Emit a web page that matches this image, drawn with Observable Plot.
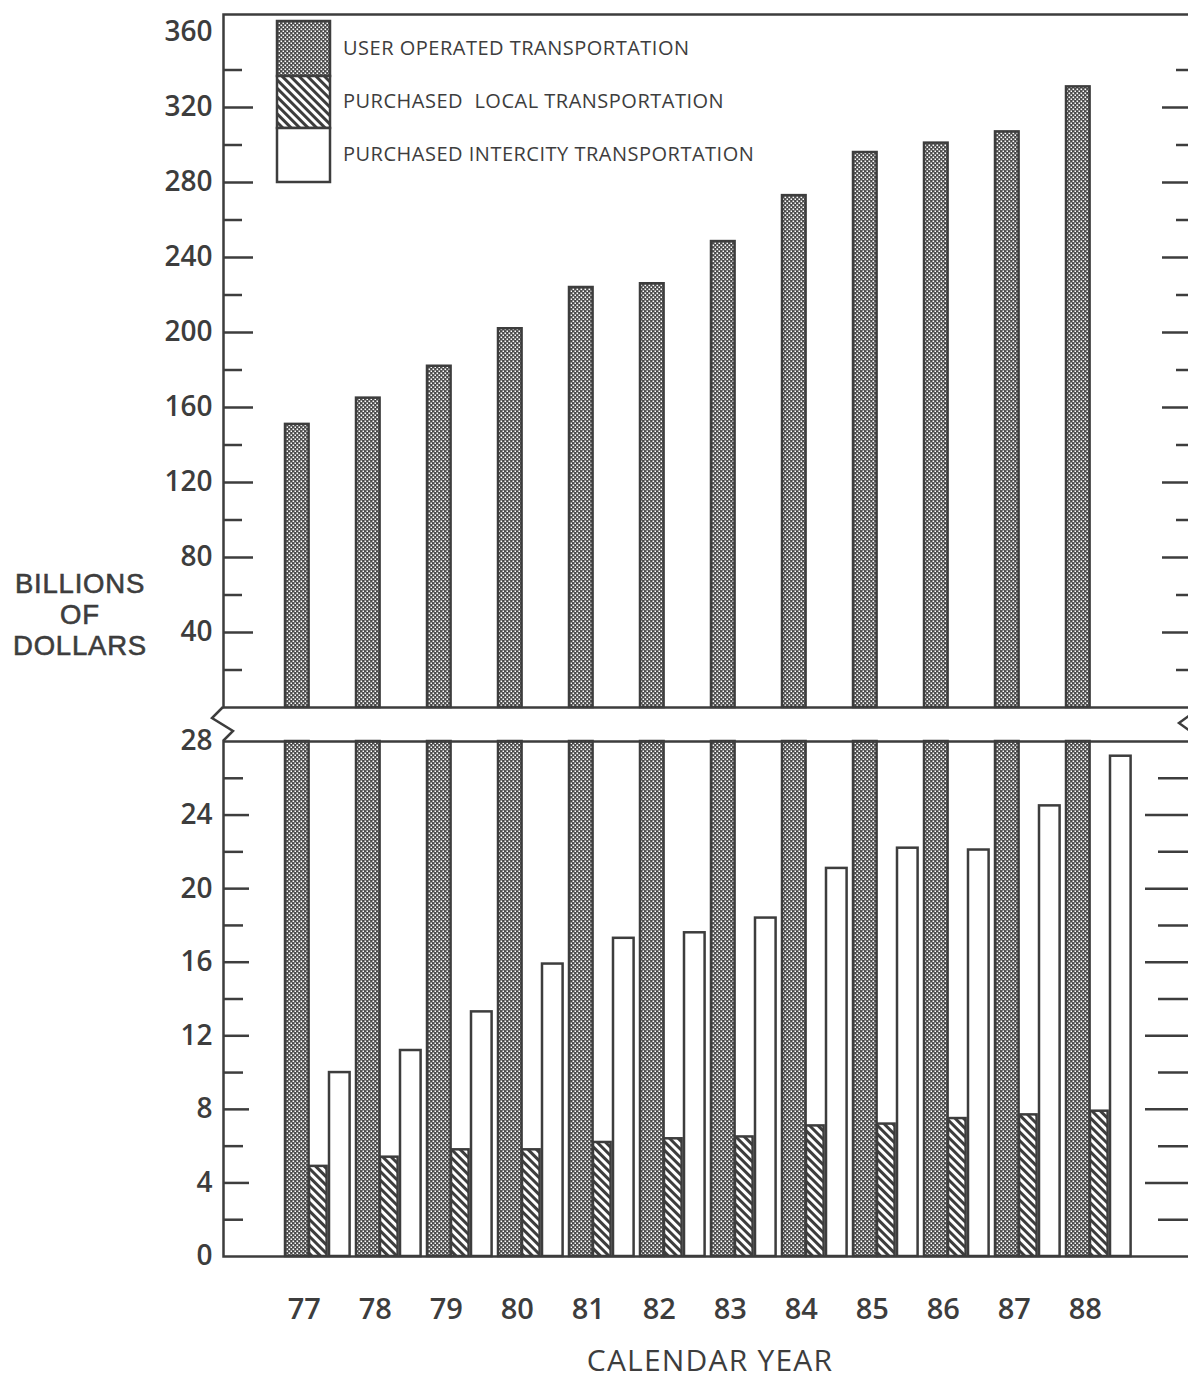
<!DOCTYPE html>
<html><head><meta charset="utf-8">
<script src="https://cdn.jsdelivr.net/npm/d3@7"></script>
<script src="https://cdn.jsdelivr.net/npm/@observablehq/plot@0.6"></script>
<style>
body{margin:0;background:#fff;}
#wrap{position:relative;width:1188px;height:1381px;overflow:hidden;font-family:"Open Sans",sans-serif;color:#3d3d3d;background:#fff;}
.abs{position:absolute;}
</style></head><body>
<svg width="0" height="0" style="position:absolute">
<defs>
<pattern id="dots" width="4" height="4" patternUnits="userSpaceOnUse">
 <rect width="4" height="4" fill="#4a4a4a"/>
 <rect x="0.5" y="0.5" width="1.6" height="1.6" fill="#fff"/>
 <rect x="2.5" y="2.5" width="1.6" height="1.6" fill="#fff"/>
</pattern>
<pattern id="hatch" width="6" height="6" patternUnits="userSpaceOnUse" patternTransform="rotate(-45)">
 <rect width="6" height="6" fill="#fff"/>
 <rect width="3" height="6" fill="#3d3d3d"/>
</pattern>
</defs></svg>
<div id="wrap"></div>
<script>
// ---- data ----
const years = ["77","78","79","80","81","82","83","84","85","86","87","88"];
const userOperated = [151, 165, 182, 202, 224, 226, 248.5, 273, 296, 301, 307, 331];
const purchasedLocal = [4.9, 5.4, 5.8, 5.8, 6.2, 6.4, 6.5, 7.1, 7.2, 7.5, 7.7, 7.9];
const purchasedIntercity = [10.0, 11.2, 13.3, 15.9, 17.3, 17.6, 18.4, 21.1, 22.2, 22.1, 24.5, 27.2];
const seriesLabels = ["USER OPERATED TRANSPORTATION", "PURCHASED  LOCAL TRANSPORTATION", "PURCHASED INTERCITY TRANSPORTATION"];
const upperTickLabels = [40, 80, 120, 160, 200, 240, 280, 320, 360];
const upperMajorTicks = [40, 80, 120, 160, 200, 240, 280, 320];
const upperMinorTicks = [20, 60, 100, 140, 180, 220, 260, 300, 340];
const lowerTickLabels = [0, 4, 8, 12, 16, 20, 24, 28];
const lowerMajorTicks = [4, 8, 12, 16, 20, 24];
const lowerMinorTicks = [2, 6, 10, 14, 18, 22, 26];
const yTitle = ["BILLIONS", "OF", "DOLLARS"];
const xTitle = "CALENDAR YEAR";

const rows = years.map((year, i) => ({year, user: userOperated[i], local: purchasedLocal[i], intercity: purchasedIntercity[i]}));

// ---- style ----
const ink = "#3d3d3d";
const W = 1196;
const step = 71.4;
const xScale = {type: "band", domain: years, range: [283, 283 + 12 * step], padding: 0, axis: null};
const bar = {stroke: ink, strokeWidth: 2.5};
const tickStyle = {stroke: ink, strokeWidth: 2.5, tickFormat: () => "", label: null};
const labelStyle = {tickSize: 0, tickPadding: 11, fontSize: 28, fontWeight: 600, fill: ink, label: null};
const pStyle = {fontFamily: "Open Sans", color: ink, background: "transparent", overflow: "visible", maxWidth: "none"};

const wrap = document.getElementById("wrap");

const upper = Plot.plot({
  width: W, height: 720, marginTop: 14, marginBottom: 13, marginLeft: 223, marginRight: 4,
  style: pStyle,
  x: xScale,
  y: {domain: [0, 369.6], axis: null},
  marks: [
    Plot.barY(rows, {x: "year", y: "user", fill: "url(#dots)", ...bar, insetLeft: 0, insetRight: step - 24}),
    Plot.axisY(upperTickLabels, labelStyle),
    Plot.axisY(upperMajorTicks, {...tickStyle, tickSize: -30}),
    Plot.axisY(upperMinorTicks, {...tickStyle, tickSize: -19}),
    Plot.axisY(upperMajorTicks, {...tickStyle, anchor: "right", tickSize: -31}),
    Plot.axisY(upperMinorTicks, {...tickStyle, anchor: "right", tickSize: -17}),
    Plot.frame({stroke: ink, strokeWidth: 2.5})
  ]
});
upper.classList.add("abs");
upper.style.left = "0px"; upper.style.top = "0px"; upper.style.maxWidth = "none";
wrap.appendChild(upper);

const lower = Plot.plot({
  width: W, height: 681, marginTop: 41, marginBottom: 125, marginLeft: 223, marginRight: 4,
  style: pStyle,
  x: xScale,
  y: {domain: [0, 28], clamp: true, axis: null},
  marks: [
    Plot.barY(rows, {x: "year", y: "user", fill: "url(#dots)", ...bar, insetLeft: 0, insetRight: step - 24}),
    Plot.barY(rows, {x: "year", y: "local", fill: "url(#hatch)", ...bar, insetLeft: 24, insetRight: step - 42}),
    Plot.barY(rows, {x: "year", y: "intercity", fill: "#fff", ...bar, insetLeft: 44, insetRight: step - 65}),
    Plot.axisY(lowerTickLabels, labelStyle),
    Plot.axisY(lowerMajorTicks, {...tickStyle, tickSize: -26}),
    Plot.axisY(lowerMinorTicks, {...tickStyle, tickSize: -20}),
    Plot.axisY(lowerMajorTicks, {...tickStyle, anchor: "right", tickSize: -48}),
    Plot.axisY(lowerMinorTicks, {...tickStyle, anchor: "right", tickSize: -35}),
    Plot.axisX({tickSize: 0, tickPadding: 42, fontSize: 29, fontWeight: 600, fill: ink, dx: -16.7, label: null}),
    Plot.frame({stroke: ink, strokeWidth: 2.5})
  ]
});
lower.classList.add("abs");
lower.style.left = "0px"; lower.style.top = "700px"; lower.style.maxWidth = "none";
wrap.appendChild(lower);

// axis break symbols + legend overlay
const ns = "http://www.w3.org/2000/svg";
const ov = document.createElementNS(ns, "svg");
ov.setAttribute("width", 1188); ov.setAttribute("height", 1381);
ov.setAttribute("class", "abs"); ov.style.left = "0px"; ov.style.top = "0px";
ov.innerHTML = `
 <path d="M223,707 L212,718 L233,731 L223,741" fill="none" stroke="${ink}" stroke-width="2.5"/>
 <path d="M1190,715 L1179,723 L1190,731" fill="none" stroke="${ink}" stroke-width="2.5"/>`;
const fills = ["url(#dots)", "url(#hatch)", "#fff"];
const boxY = [21, 76, 128, 182];
seriesLabels.forEach((lab, i) => {
  const r = document.createElementNS(ns, "rect");
  r.setAttribute("x", 277); r.setAttribute("y", boxY[i]);
  r.setAttribute("width", 53); r.setAttribute("height", boxY[i + 1] - boxY[i]);
  r.setAttribute("fill", fills[i]); r.setAttribute("stroke", ink); r.setAttribute("stroke-width", 2.5);
  ov.appendChild(r);
  const t = document.createElementNS(ns, "text");
  t.setAttribute("x", 343); t.setAttribute("y", (boxY[i] + boxY[i + 1]) / 2 + 1);
  t.setAttribute("dominant-baseline", "middle");
  t.setAttribute("font-size", 20); t.setAttribute("font-family", "Open Sans");
  t.setAttribute("letter-spacing", "0.5");
  t.setAttribute("fill", ink); t.style.whiteSpace = "pre";
  t.textContent = lab;
  ov.appendChild(t);
});
wrap.appendChild(ov);

yTitle.forEach((line, i) => {
  const d = document.createElement("div");
  d.className = "abs";
  d.style.cssText = `left:0;width:160px;top:${568 + i * 31}px;height:31px;text-align:center;font-family:'Liberation Sans',sans-serif;font-size:27.5px;line-height:31px;letter-spacing:0.8px;-webkit-text-stroke:0.6px ${ink};color:${ink};`;
  d.textContent = line;
  wrap.appendChild(d);
});

const xt = document.createElement("div");
xt.className = "abs";
xt.style.cssText = `left:460px;width:500px;top:1340px;height:40px;text-align:center;font-size:30px;line-height:40px;letter-spacing:1.2px;font-weight:400;color:${ink};`;
xt.textContent = xTitle;
wrap.appendChild(xt);
</script>
</body></html>
